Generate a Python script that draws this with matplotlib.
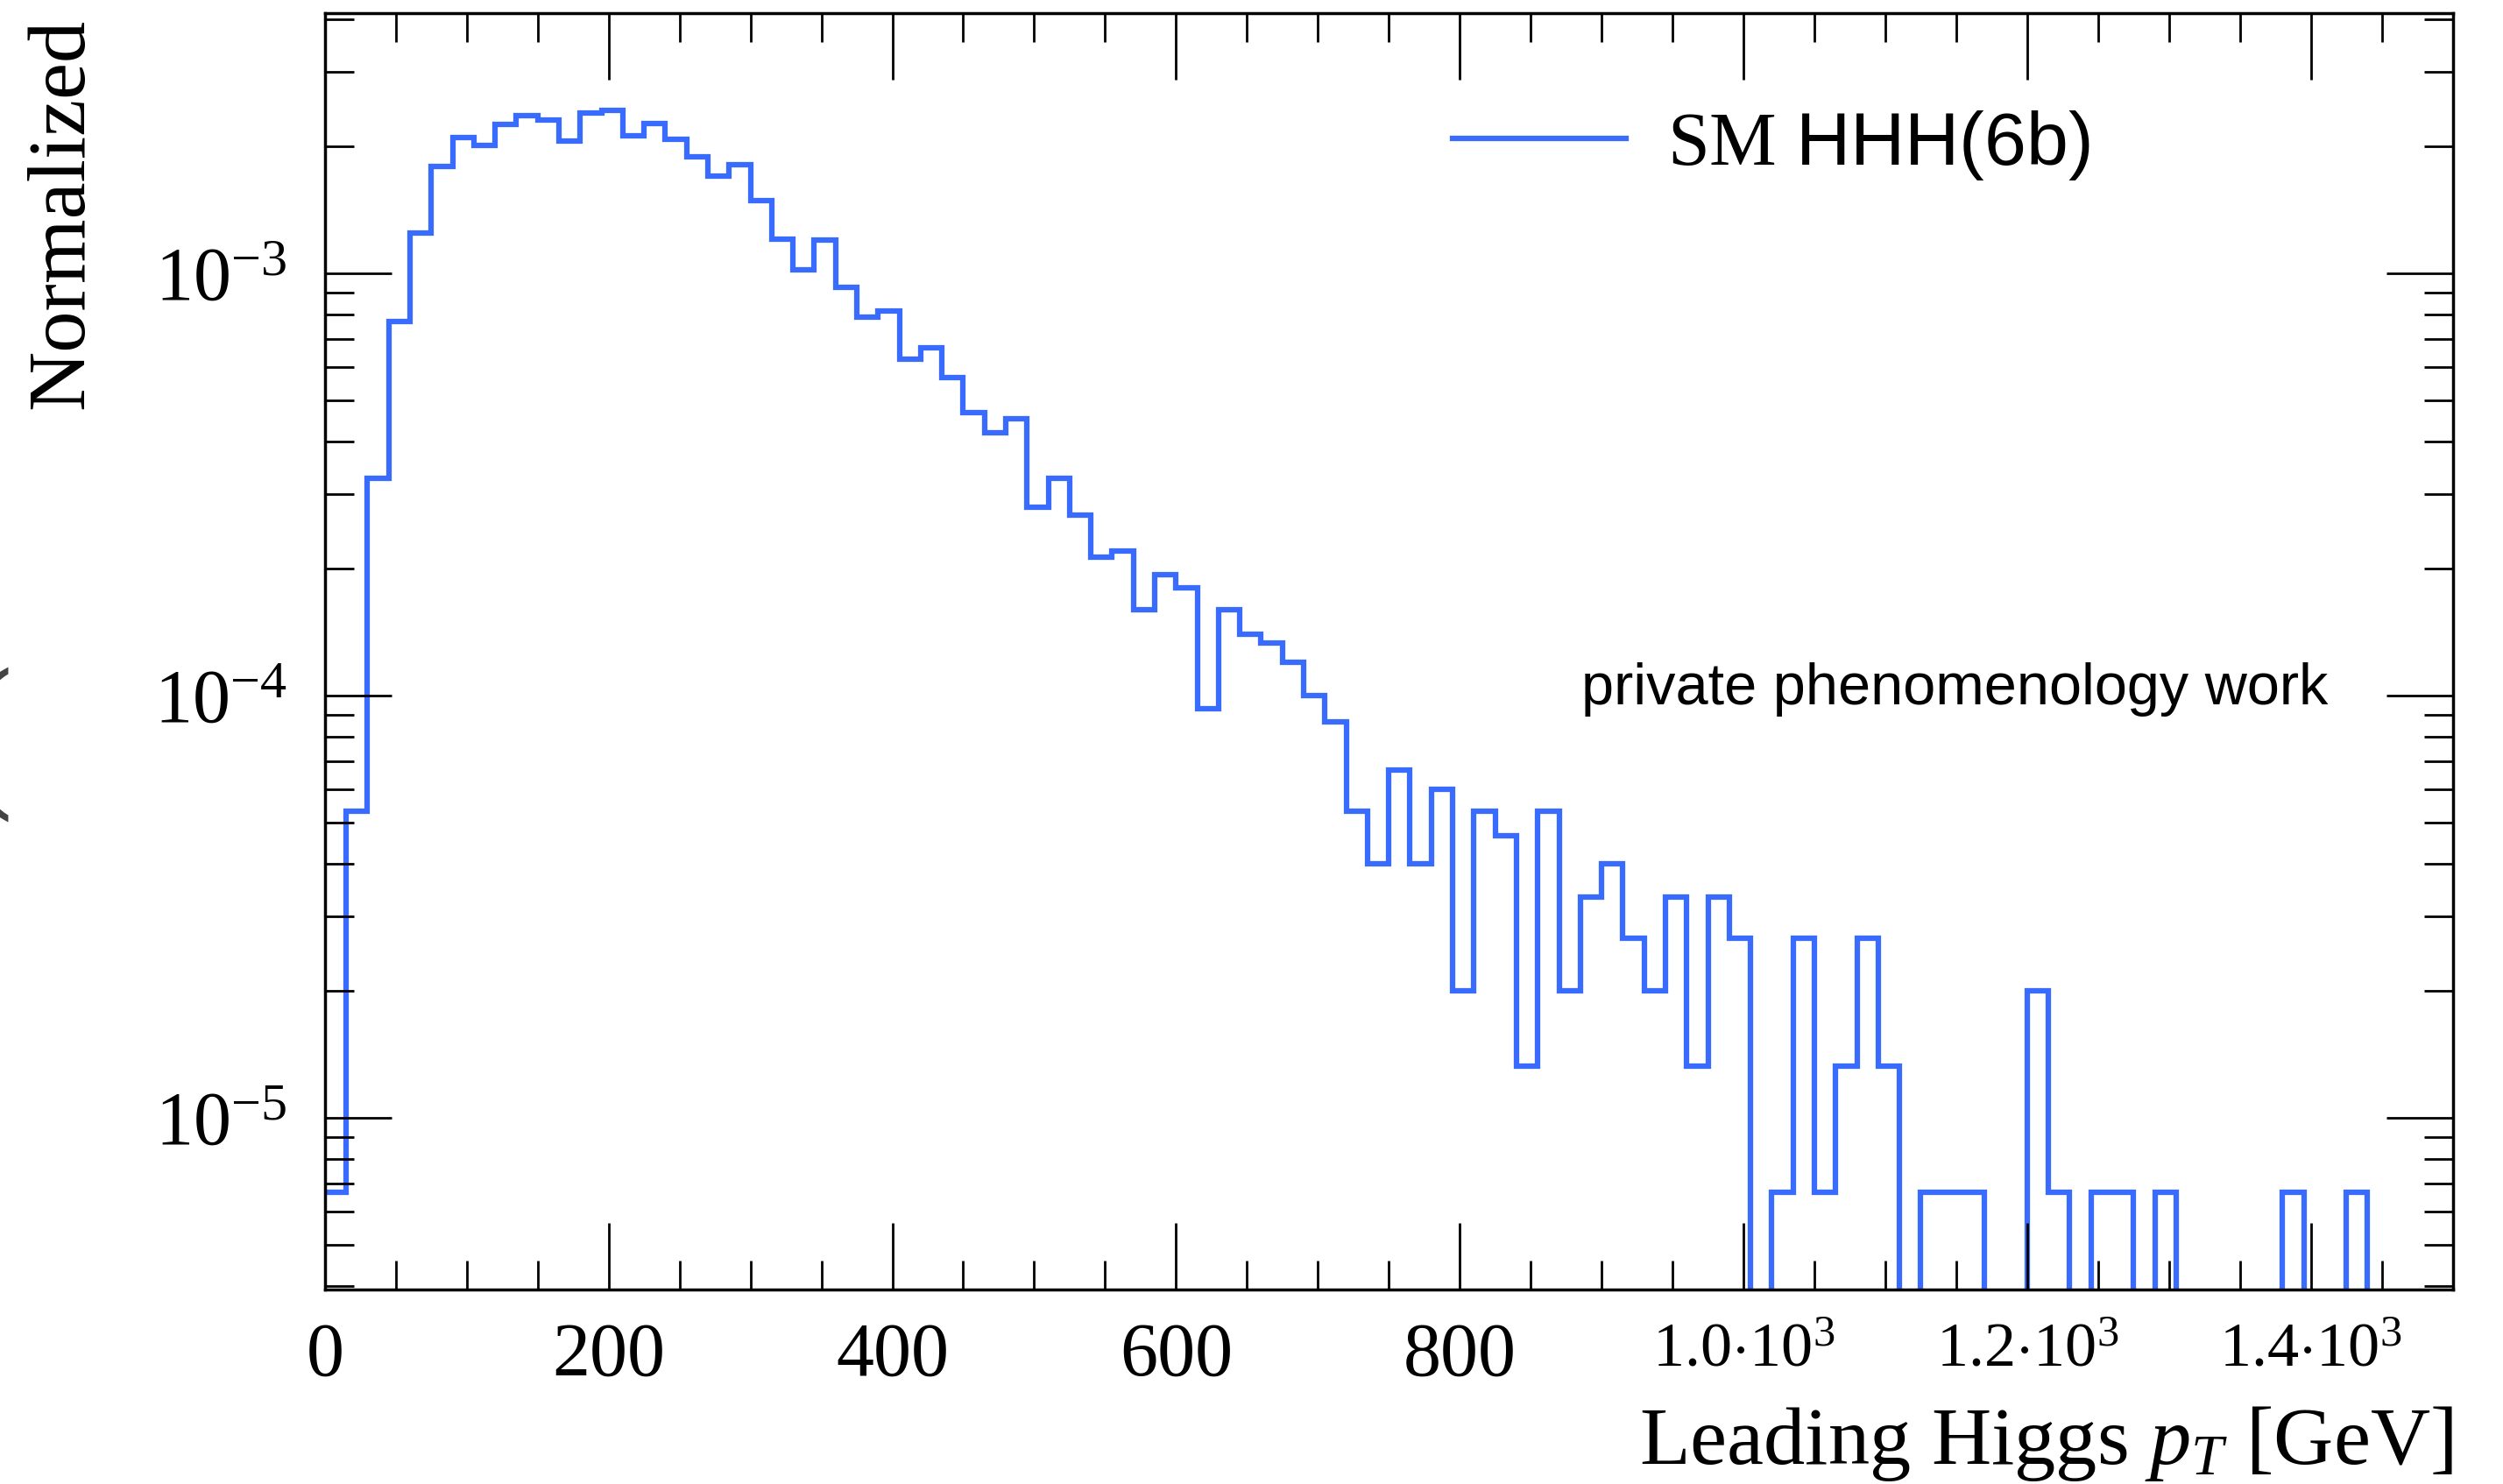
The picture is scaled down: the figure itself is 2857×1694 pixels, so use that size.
import matplotlib.pyplot as plt
import numpy as np
from matplotlib.ticker import MultipleLocator, LogLocator, FuncFormatter, NullFormatter

plt.rcParams["font.family"] = "Liberation Serif"
plt.rcParams["mathtext.fontset"] = "custom"
plt.rcParams["mathtext.rm"] = "Liberation Serif"
plt.rcParams["mathtext.it"] = "Liberation Serif:italic"
plt.rcParams["mathtext.sf"] = "Liberation Sans"

# leading Higgs pT, 100 bins of 15 GeV from 0 to 1500 GeV
pt_lo, pt_hi, n_bins = 0, 1500, 100
normalized = [
    6.67e-6, 5.33e-5, 3.27e-4, 7.67e-4, 1.247e-3, 1.787e-3, 2.10e-3, 2.007e-3, 2.253e-3, 2.36e-3,
    2.30e-3, 2.053e-3, 2.40e-3, 2.433e-3, 2.113e-3, 2.26e-3, 2.073e-3, 1.887e-3, 1.70e-3, 1.807e-3,
    1.487e-3, 1.207e-3, 1.02e-3, 1.20e-3, 9.27e-4, 7.87e-4, 8.13e-4, 6.27e-4, 6.67e-4, 5.67e-4,
    4.67e-4, 4.20e-4, 4.53e-4, 2.80e-4, 3.27e-4, 2.67e-4, 2.13e-4, 2.20e-4, 1.60e-4, 1.93e-4,
    1.80e-4, 9.33e-5, 1.60e-4, 1.40e-4, 1.33e-4, 1.20e-4, 1.00e-4, 8.67e-5, 5.33e-5, 4.00e-5,
    6.67e-5, 4.00e-5, 6.00e-5, 2.00e-5, 5.33e-5, 4.67e-5, 1.33e-5, 5.33e-5, 2.00e-5, 3.33e-5,
    4.00e-5, 2.67e-5, 2.00e-5, 3.33e-5, 1.33e-5, 3.33e-5, 2.67e-5, 0.0, 6.67e-6, 2.67e-5,
    6.67e-6, 1.33e-5, 2.67e-5, 1.33e-5, 0.0, 6.67e-6, 6.67e-6, 6.67e-6, 0.0, 0.0,
    2.00e-5, 6.67e-6, 0.0, 6.67e-6, 6.67e-6, 0.0, 6.67e-6, 0.0, 0.0, 0.0,
    0.0, 0.0, 6.67e-6, 0.0, 0.0, 6.67e-6, 0.0, 0.0, 0.0, 0.0,
]
label = r"SM $\mathsf{HHH(6b)}$"

edges = np.linspace(pt_lo, pt_hi, n_bins + 1)

fig = plt.figure(figsize=(28.57, 16.94), dpi=100)
ax = fig.add_axes([0.1298, 0.1311, 0.8501, 0.8601])

ax.stairs(normalized, edges, baseline=None, color="#3a6bff", linewidth=4.5, label=label)

ax.set_yscale("log")
ax.set_xlim(pt_lo, pt_hi)
ax.set_ylim(3.93e-6, 4.13e-3)

ax.xaxis.set_major_locator(MultipleLocator(200))
ax.xaxis.set_minor_locator(MultipleLocator(50))
ax.yaxis.set_major_locator(LogLocator(base=10))
ax.yaxis.set_minor_locator(LogLocator(base=10, subs=np.arange(2, 10)))
ax.yaxis.set_minor_formatter(NullFormatter())


def xfmt(v, pos):
    if v < 1000:
        return f"{v:.0f}"
    return rf"${v / 1000:.1f}{{\cdot}}10^{{3}}$"


def yfmt(v, pos):
    return rf"$10^{{{int(round(np.log10(v)))}}}$"


ax.xaxis.set_major_formatter(FuncFormatter(xfmt))
ax.yaxis.set_major_formatter(FuncFormatter(yfmt))

ax.tick_params(which="both", direction="in", top=True, right=True, width=2)
ax.tick_params(which="major", length=55, labelsize=62)
ax.tick_params(which="minor", length=24)
ax.tick_params(axis="x", which="major", pad=27)
ax.tick_params(axis="y", which="major", pad=31)
for s in ax.spines.values():
    s.set_linewidth(2.5)

# the 10^3 labels are set a bit smaller, as in the original
for loc, tick in zip(ax.get_xticks(), ax.xaxis.get_major_ticks()):
    if loc >= 1000:
        tick.label1.set_fontsize(52)

ax.set_xlabel(r"Leading Higgs $p_{T}$ [GeV]", fontsize=68, loc="right")
ax.xaxis.set_label_coords(1.0, -0.09)
fig.text(0.025, 0.9876, "Normalized", rotation=90, ha="center", va="top", fontsize=68)

ax.legend(loc="center left", bbox_to_anchor=(1658 / 2857, 1 - 166 / 1694),
          bbox_transform=fig.transFigure, frameon=False, fontsize=62,
          handlelength=2.3, handletextpad=0.55, borderpad=0, borderaxespad=0)

fig.text(1805 / 2857, 1 - 803.6 / 1694, "private phenomenology work",
         family="Liberation Sans", fontsize=48, ha="left", va="baseline")

# stray bracket poking in at the left edge
fig.text(0.0055, 1 - 851 / 1694, "(", fontsize=140, ha="right", va="center", color="#444444")

fig.savefig("out.png", dpi=100)
